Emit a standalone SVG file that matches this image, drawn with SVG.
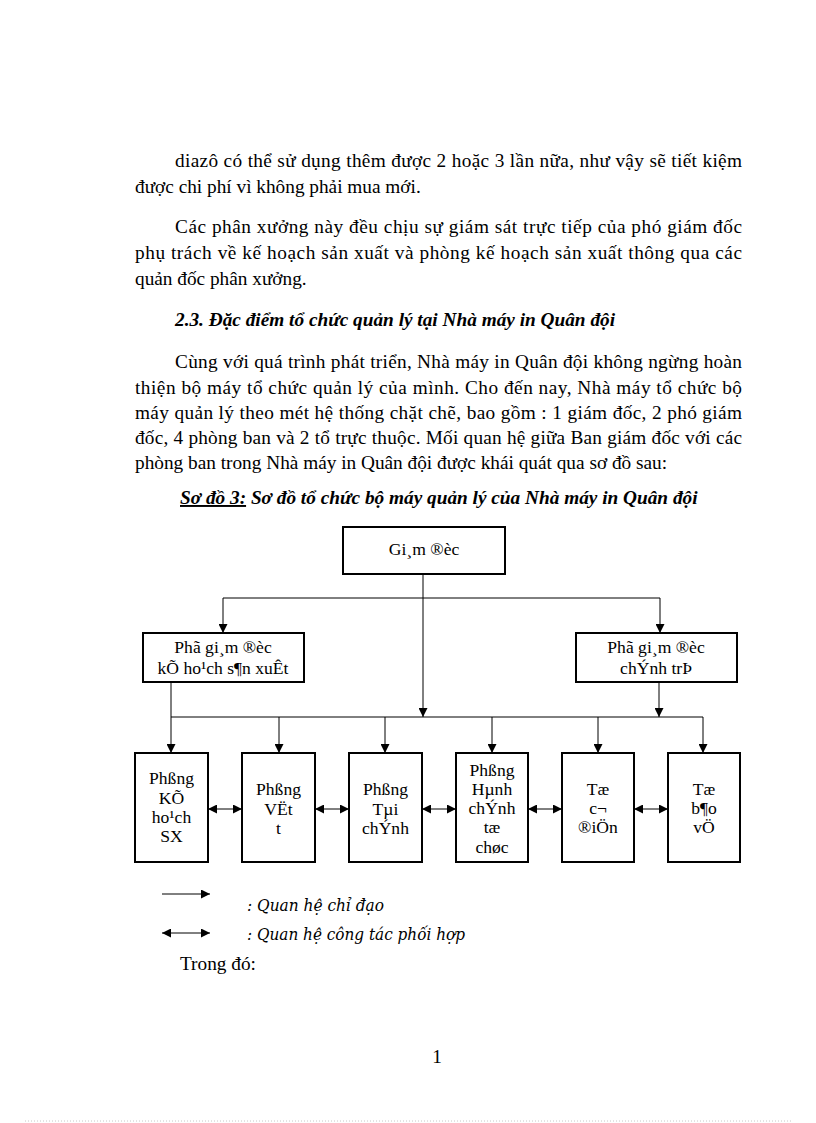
<svg xmlns="http://www.w3.org/2000/svg" width="816" height="1123" viewBox="0 0 816 1123">
<style>
.body{font-family:"Liberation Serif","Times New Roman",serif;font-size:19.3px;fill:#000}
.bi{font-family:"Liberation Serif","Times New Roman",serif;font-size:19.3px;font-weight:bold;font-style:italic;fill:#000}
.lbl{font-family:"Liberation Serif","Times New Roman",serif;font-size:17.6px;fill:#000;text-anchor:middle}
.leg{font-family:"DejaVu Serif","Liberation Serif",serif;font-size:16px;font-style:italic;fill:#000}
.box{fill:#fff;stroke:#000;stroke-width:2}
.ln{fill:none;stroke:#000;stroke-width:1}
</style>
<defs>
<marker id="ah" markerWidth="9" markerHeight="9" refX="9" refY="4.5" orient="auto" markerUnits="userSpaceOnUse">
<path d="M0,0 L9,4.5 L0,9 Z" fill="#000"/>
</marker>
<marker id="as" markerWidth="9" markerHeight="9" refX="0" refY="4.5" orient="auto" markerUnits="userSpaceOnUse">
<path d="M9,0 L0,4.5 L9,9 Z" fill="#000"/>
</marker>
</defs>
<rect width="816" height="1123" fill="#fff"/>

<g id="text-body">
<text class="body" x="175" y="167" textLength="567" lengthAdjust="spacing">diazô có thể sử dụng thêm được 2 hoặc 3 lần nữa, như vậy sẽ tiết kiệm</text>
<text class="body" x="135" y="193">được chi phí vì không phải mua mới.</text>
<text class="body" x="175" y="233" textLength="567" lengthAdjust="spacing">Các phân xưởng này đều chịu sự giám  sát trực tiếp  của phó giám  đốc</text>
<text class="body" x="135" y="259" textLength="607" lengthAdjust="spacing">phụ trách về kế hoạch sản xuất và phòng kế hoạch sản xuất thông qua các</text>
<text class="body" x="135" y="285">quản đốc phân xưởng.</text>
<text class="bi" x="175" y="326">2.3. Đặc điểm tổ chức quản lý tại Nhà máy in Quân đội</text>
<text class="body" x="175" y="368" textLength="567" lengthAdjust="spacing">Cùng với quá trình phát triển, Nhà máy in Quân đội không ngừng hoàn</text>
<text class="body" x="135" y="394" textLength="607" lengthAdjust="spacing">thiện bộ máy tổ chức quản lý của mình. Cho đến nay, Nhà máy tổ chức bộ</text>
<text class="body" x="135" y="419" textLength="607" lengthAdjust="spacing">máy quản lý theo mét hệ thống chặt chẽ, bao gồm : 1 giám  đốc, 2 phó giám</text>
<text class="body" x="135" y="444" textLength="607" lengthAdjust="spacing">đốc, 4 phòng ban và 2 tổ trực thuộc. Mối quan hệ giữa Ban giám  đốc với các</text>
<text class="body" x="135" y="469">phòng ban trong Nhà máy in Quân đội được khái  quát qua sơ đồ sau:</text>
<text class="bi" x="180" y="504"><tspan style="text-decoration:underline">Sơ đồ 3:</tspan> Sơ đồ tổ chức bộ máy quản lý của Nhà máy in Quân đội</text>
</g>

<g id="connectors">
<line class="ln" x1="423" y1="574" x2="423" y2="717" marker-end="url(#ah)"/>
<line class="ln" x1="223" y1="598" x2="660" y2="598"/>
<line class="ln" x1="223" y1="598" x2="223" y2="633" marker-end="url(#ah)"/>
<line class="ln" x1="660" y1="598" x2="660" y2="633" marker-end="url(#ah)"/>
<line class="ln" x1="171" y1="682" x2="171" y2="753" marker-end="url(#ah)"/>
<line class="ln" x1="171" y1="717" x2="703" y2="717"/>
<line class="ln" x1="659" y1="682" x2="659" y2="717" marker-end="url(#ah)"/>
<line class="ln" x1="279" y1="717" x2="279" y2="753" marker-end="url(#ah)"/>
<line class="ln" x1="385" y1="717" x2="385" y2="753" marker-end="url(#ah)"/>
<line class="ln" x1="492" y1="717" x2="492" y2="753" marker-end="url(#ah)"/>
<line class="ln" x1="598" y1="717" x2="598" y2="753" marker-end="url(#ah)"/>
<line class="ln" x1="703" y1="717" x2="703" y2="753" marker-end="url(#ah)"/>
<line class="ln" x1="208" y1="809" x2="242" y2="809" marker-start="url(#as)" marker-end="url(#ah)"/>
<line class="ln" x1="315" y1="809" x2="349" y2="809" marker-start="url(#as)" marker-end="url(#ah)"/>
<line class="ln" x1="422" y1="809" x2="456" y2="809" marker-start="url(#as)" marker-end="url(#ah)"/>
<line class="ln" x1="528" y1="809" x2="562" y2="809" marker-start="url(#as)" marker-end="url(#ah)"/>
<line class="ln" x1="634" y1="809" x2="668" y2="809" marker-start="url(#as)" marker-end="url(#ah)"/>
</g>

<g id="giam-doc">
<rect class="box" x="343" y="527" width="162" height="47"/>
<text class="lbl" x="424" y="555">Gi¸m ®èc</text>
</g>
<g id="pgd-kehoach">
<rect class="box" x="143" y="633" width="161" height="49"/>
<text class="lbl" x="223" y="653">Phã gi¸m ®èc</text>
<text class="lbl" x="223" y="674">kÕ ho¹ch s¶n xuÊt</text>
</g>
<g id="pgd-chinhtri">
<rect class="box" x="576" y="633" width="161" height="49"/>
<text class="lbl" x="656" y="653">Phã gi¸m ®èc</text>
<text class="lbl" x="656" y="674">chÝnh trÞ</text>
</g>
<g id="phong-kehoach">
<rect class="box" x="135" y="753" width="73" height="109"/>
<text class="lbl" x="171.5" y="784">Phßng</text>
<text class="lbl" x="171.5" y="804">KÕ</text>
<text class="lbl" x="171.5" y="823">ho¹ch</text>
<text class="lbl" x="171.5" y="842">SX</text>
</g>
<g id="phong-vattu">
<rect class="box" x="242" y="753" width="73" height="109"/>
<text class="lbl" x="278.5" y="795">Phßng</text>
<text class="lbl" x="278.5" y="815">VËt</text>
<text class="lbl" x="278.5" y="834">t</text>
</g>
<g id="phong-taichinh">
<rect class="box" x="349" y="753" width="73" height="109"/>
<text class="lbl" x="385.5" y="795">Phßng</text>
<text class="lbl" x="385.5" y="815">Tµi</text>
<text class="lbl" x="385.5" y="834">chÝnh</text>
</g>
<g id="phong-hanhchinh">
<rect class="box" x="456" y="753" width="72" height="109"/>
<text class="lbl" x="492" y="776">Phßng</text>
<text class="lbl" x="492" y="795">Hµnh</text>
<text class="lbl" x="492" y="814">chÝnh</text>
<text class="lbl" x="492" y="833">tæ</text>
<text class="lbl" x="492" y="853">chøc</text>
</g>
<g id="to-codien">
<rect class="box" x="562" y="753" width="72" height="109"/>
<text class="lbl" x="598" y="795">Tæ</text>
<text class="lbl" x="598" y="814">c¬</text>
<text class="lbl" x="598" y="833">®iÖn</text>
</g>
<g id="to-baove">
<rect class="box" x="668" y="753" width="72" height="109"/>
<text class="lbl" x="704" y="795">Tæ</text>
<text class="lbl" x="704" y="814">b¶o</text>
<text class="lbl" x="704" y="833">vÖ</text>
</g>

<g id="legend">
<line class="ln" x1="162" y1="894" x2="210" y2="894" marker-end="url(#ah)"/>
<line class="ln" x1="162" y1="933" x2="210" y2="933" marker-start="url(#as)" marker-end="url(#ah)"/>
<text class="leg" x="247" y="911" textLength="137" lengthAdjust="spacingAndGlyphs">: Quan hệ chỉ đạo</text>
<text class="leg" x="247" y="940" textLength="218" lengthAdjust="spacingAndGlyphs">: Quan hệ công tác phối hợp</text>
<text class="body" x="180" y="970">Trong đó:</text>
</g>

<text class="body" x="437" y="1063" text-anchor="middle">1</text>
<line x1="25" y1="1121" x2="791" y2="1121" stroke="#c8c8c8" stroke-width="1" stroke-dasharray="1,2"/>
</svg>
